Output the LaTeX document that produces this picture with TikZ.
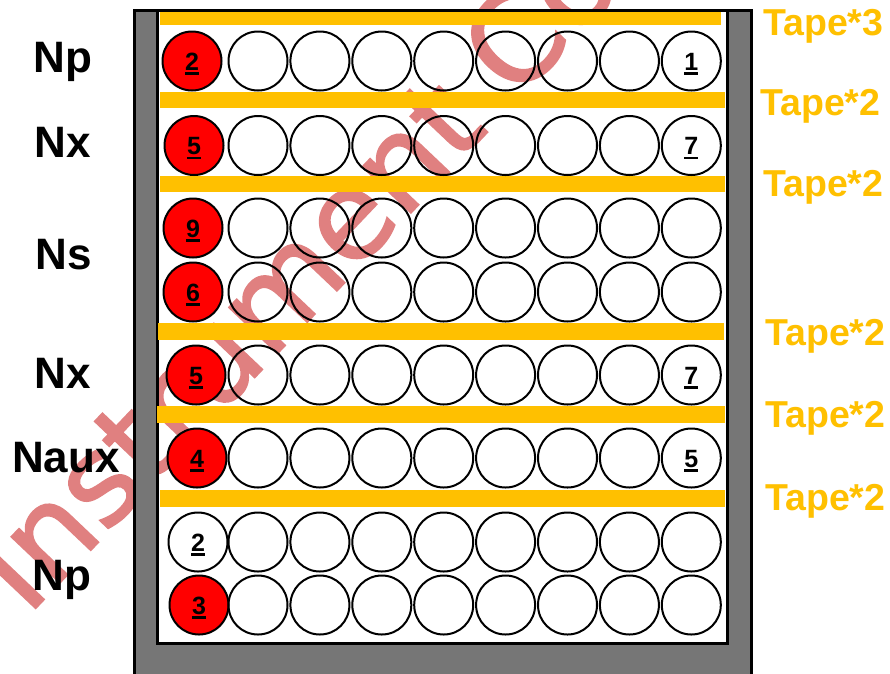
\documentclass[tikz,border=0pt]{standalone}
\usepackage{fontspec}
\setmainfont{Liberation Sans}
\newfontfamily\wmfont[FakeBold=1.5]{DejaVu Sans}
\definecolor{tapecol}{RGB}{255,192,0}
\definecolor{framegray}{RGB}{118,118,118}
\definecolor{wmcol}{RGB}{224,128,128}
\newcommand\uln[1]{\leavevmode\setbox0=\hbox{#1}\rlap{\rule[-4.8pt]{\wd0}{2.8pt}}\box0}
\tikzset{
  ball/.style={circle, draw=black, line width=2pt, minimum size=59pt, inner sep=0pt},
  redball/.style={ball, fill=red},
  tapeband/.style={fill=tapecol, draw=none},
  tapelabel/.style={anchor=base west, text=tapecol, inner sep=0pt, font=\fontsize{37.5}{37.5}\bfseries\selectfont},
  rowlabel/.style={anchor=base, inner sep=0pt, font=\fontsize{44}{44}\bfseries\selectfont},
  num/.style={anchor=base, inner sep=0pt, font=\fontsize{25}{25}\bfseries\selectfont},
  frameline/.style={draw=black, line width=3pt}
}
\begin{document}
\begin{tikzpicture}[x=1pt, y=-1pt]
\useasboundingbox (0,0) rectangle (890,673);
\fill[white] (0,0) rectangle (890,673);
% watermark
\node[rotate=46.5, anchor=base west, inner sep=0pt, text=wmcol, font=\wmfont\fontsize{122}{122}\selectfont] (wm) at (27.3,617) {Instrument Co};
% frame
\fill[framegray, even odd rule] (134.5,10) rectangle (751.5,690) (157,10) rectangle (727.5,643);
\draw[frameline] (134.5,690) -- (134.5,10) -- (751.5,10) -- (751.5,690);
\draw[frameline] (157,10) -- (157,643) -- (727.5,643) -- (727.5,10);
% tapes
\fill[tapeband] (160,12) rectangle (721,25);
\fill[tapeband] (160,92) rectangle (725,108);
\fill[tapeband] (160,176) rectangle (725,192);
\fill[tapeband] (158,323) rectangle (724,340);
\fill[tapeband] (157,406) rectangle (725,423);
\fill[tapeband] (160,490) rectangle (725,507);
% balls
\foreach \r/\y/\xo/\st in {1/61/192/redball, 2/145.5/194/redball, 3/228/193/redball, 4/292/193/redball, 5/375/196/redball, 6/458/197/redball, 7/542/198/ball, 8/605/199/redball}{
  \node[\st] (c\r-0) at (\xo,\y) {};
  \foreach \i in {1,...,8}{
    \node[ball] (c\r-\i) at ({258+61.9*(\i-1)},\y) {};
  }
}
% numbers
\node[num] at ([yshift=-9pt]c1-0.center) {\uln{2}};
\node[num] at ([yshift=-9pt]c1-8.center) {\uln{1}};
\node[num] at ([yshift=-9pt]c2-0.center) {\uln{5}};
\node[num] at ([yshift=-9pt]c2-8.center) {\uln{7}};
\node[num] at ([yshift=-9pt]c3-0.center) {\uln{9}};
\node[num] at ([yshift=-9pt]c4-0.center) {\uln{6}};
\node[num] at ([yshift=-9pt]c5-0.center) {\uln{5}};
\node[num] at ([yshift=-9pt]c5-8.center) {\uln{7}};
\node[num] at ([yshift=-9pt]c6-0.center) {\uln{4}};
\node[num] at ([yshift=-9pt]c6-8.center) {\uln{5}};
\node[num] at ([yshift=-9pt]c7-0.center) {\uln{2}};
\node[num] at ([yshift=-9pt]c8-0.center) {\uln{3}};
% row labels
\node[rowlabel] (l1) at (63,72) {Np};
\node[rowlabel] (l2) at (63,157) {Nx};
\node[rowlabel] (l3) at (64,269) {Ns};
\node[rowlabel] (l4) at (63,388) {Nx};
\node[rowlabel] (l5) at (66,472) {Naux};
\node[rowlabel] (l6) at (62,590) {Np};
% tape labels
\node[tapelabel] (t1) at (763,35) {Tape*3};
\node[tapelabel] (t2) at (760,115) {Tape*2};
\node[tapelabel] (t3) at (763,196) {Tape*2};
\node[tapelabel] (t4) at (765,345) {Tape*2};
\node[tapelabel] (t5) at (765,427) {Tape*2};
\node[tapelabel] (t6) at (765,510) {Tape*2};
\end{tikzpicture}
\end{document}
